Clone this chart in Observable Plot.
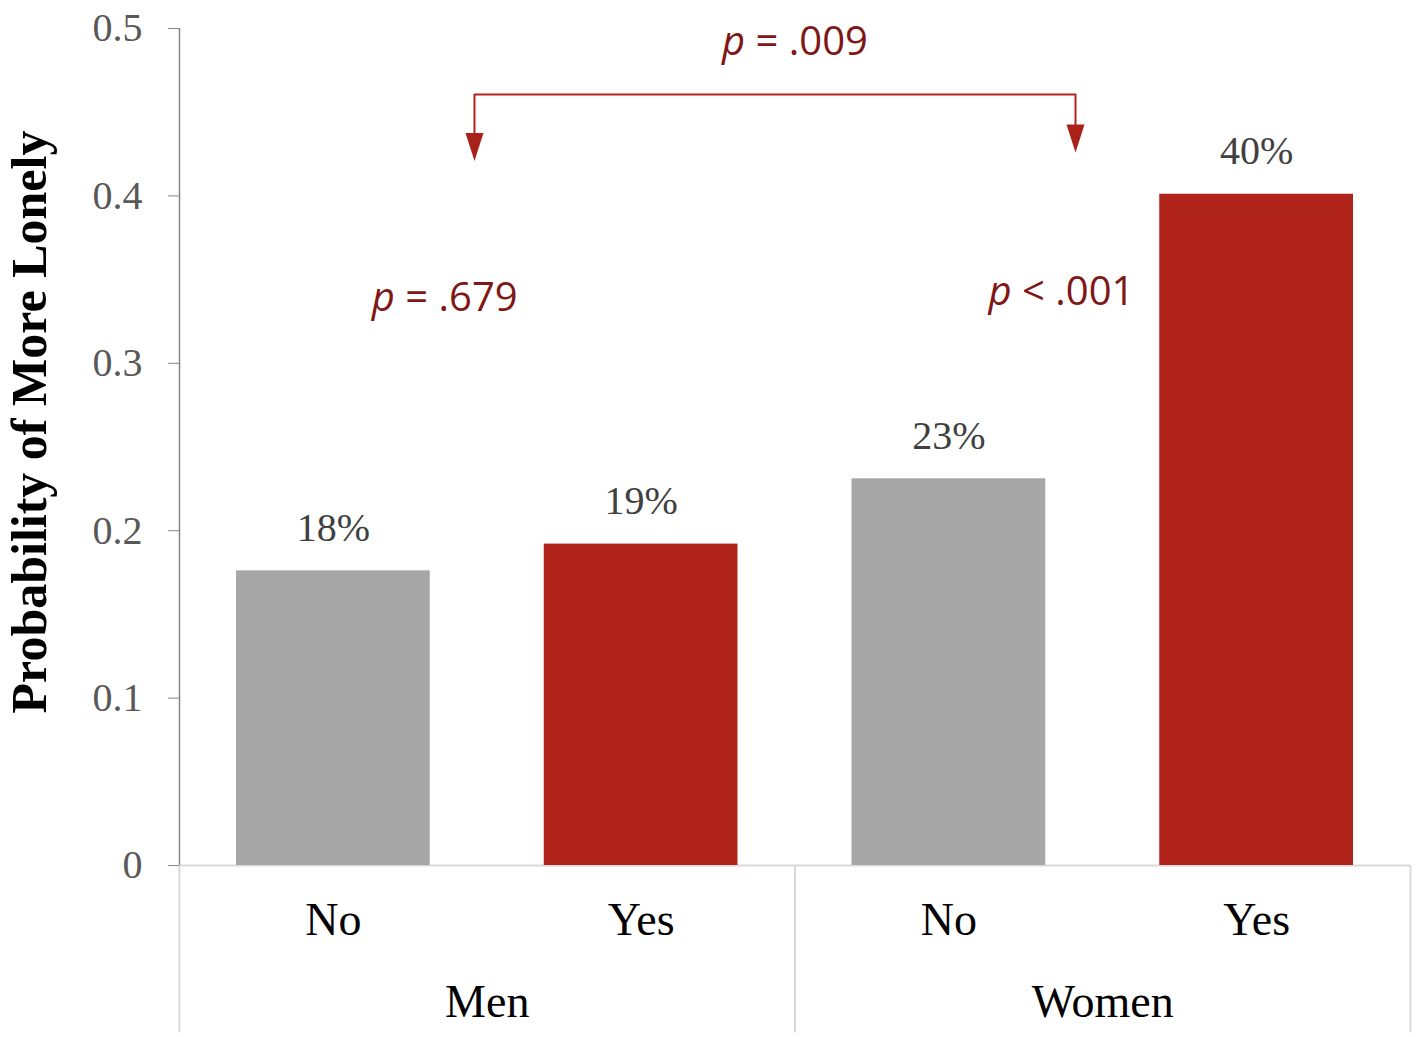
<!DOCTYPE html>
<html>
<head>
<meta charset="utf-8">
<script src="https://cdn.jsdelivr.net/npm/d3@7"></script>
<script src="https://cdn.jsdelivr.net/npm/@observablehq/plot@0.6"></script>
<style>
  html, body { margin: 0; padding: 0; background: #fff; }
  #chart { width: 1419px; height: 1037px; }
</style>
</head>
<body>
<div id="chart"></div>
<script>
// ---- data ----
const genders = ["Men", "Men", "Women", "Women"];
const answers = ["No", "Yes", "No", "Yes"];
const probabilities = [0.176, 0.192, 0.231, 0.401];
const groups = ["Men", "Women"];
const yTicks = [0, 0.1, 0.2, 0.3, 0.4, 0.5];
const yTitle = "Probability of More Lonely";

// annotations (data coordinates: x in bar-slot units, y in probability)
const noteTexts = ["p = .009", "p = .679", "p < .001"];
const noteX = [2.0, 0.862, 2.866];
const noteY = [0.4916, 0.3387, 0.3423];
const bracketX = [0.9585, 0.9585, 2.9115, 2.9115];
const bracketY = [0.432, 0.4606, 0.4606, 0.437];
const arrowX = [0.9585, 2.9115];
const arrowY = [0.4292, 0.4343];

// ---- build tables ----
const bars = genders.map((g, i) => ({i, gender: g, answer: answers[i], value: probabilities[i]}));
const notes = noteTexts.map((t, k) => ({text: t, x: noteX[k], y: noteY[k]}));
const bracket = bracketX.map((x, k) => ({x, y: bracketY[k]}));
const arrows = arrowX.map((x, k) => ({x, y: arrowY[k]}));

const GRAY = "#a6a6a6";
const RED = "#b0231b";
const SERIF = "Liberation Serif, Times New Roman, serif";
const SANS = "Open Sans, Liberation Sans, sans-serif";
const pct = d3.format(".0%");

const arrowSymbol = {
  draw(context, size) {
    const r = Math.sqrt(size / Math.PI);
    const w = 1.8 * r, h = 2.8 * r;
    context.moveTo(-w / 2, -h / 2);
    context.lineTo(w / 2, -h / 2);
    context.lineTo(0, h / 2);
    context.closePath();
  }
};

const plot = Plot.plot({
  width: 1419,
  height: 1037,
  marginLeft: 179,
  marginRight: 9,
  marginTop: 28,
  marginBottom: 172,
  style: {fontFamily: SERIF, fontSize: "40px", background: "#fff"},
  x: {domain: [0, 4], axis: null},
  y: {domain: [0, 0.5], axis: null},
  color: {domain: ["No", "Yes"], range: [GRAY, RED]},
  marks: [
    // category separators below the baseline
    Plot.ruleX([0, 2, 4], {y1: 0, y2: -0.1, stroke: "#d9d9d9", strokeWidth: 2}),
    Plot.ruleY([0], {stroke: "#d9d9d9", strokeWidth: 2}),
    // bars
    Plot.rect(bars, {x1: "i", x2: d => d.i + 1, y1: 0, y2: "value", fill: "answer", insetLeft: 57, insetRight: 57}),
    // y axis
    Plot.ruleX([0], {y1: 0, y2: 0.5, stroke: "#868686", strokeWidth: 1.5}),
    Plot.axisY(yTicks, {tickSize: 11, tickPadding: 26, stroke: "#868686", color: "#595959", fontSize: 40, fontFamily: SERIF, label: null, tickFormat: d => String(d)}),
    Plot.text([yTitle], {frameAnchor: "left", textAnchor: "middle", dx: -150, dy: -25, rotate: -90, fontSize: 50, fontWeight: "bold", fontFamily: SERIF, fill: "#000"}),
    // value labels
    Plot.text(bars, {x: d => d.i + 0.5, y: "value", text: d => pct(d.value), dy: -43, fill: "#404040", fontSize: 40, fontFamily: SERIF}),
    // category labels
    Plot.text(bars, {x: d => d.i + 0.5, frameAnchor: "bottom", text: "answer", dy: 69, fill: "#000", fontSize: 46, fontFamily: SERIF}),
    Plot.text(groups, {x: g => d3.mean(bars.filter(b => b.gender === g), b => b.i + 0.5), frameAnchor: "bottom", text: d => d, dy: 151, fill: "#000", fontSize: 46, fontFamily: SERIF}),
    // annotations
    Plot.line(bracket, {x: "x", y: "y", stroke: RED, strokeWidth: 2}),
    Plot.dot(arrows, {x: "x", y: "y", symbol: arrowSymbol, r: 10, fill: "#a8221a", stroke: null}),
    Plot.text(notes, {x: "x", y: "y", text: "text", fill: "#801717", fontSize: 40, fontFamily: SANS, className: "pnote"})
  ]
});

// italicise the leading "p" of the p-value annotations
plot.querySelectorAll(".pnote text").forEach(t => {
  const s = t.textContent;
  if (s.startsWith("p")) {
    t.textContent = "";
    const ts = document.createElementNS("http://www.w3.org/2000/svg", "tspan");
    ts.setAttribute("font-style", "italic");
    ts.textContent = "p";
    t.appendChild(ts);
    t.appendChild(document.createTextNode(s.slice(1)));
    t.setAttribute("xml:space", "preserve");
    t.style.whiteSpace = "pre";
  }
});

document.getElementById("chart").appendChild(plot);
</script>
</body>
</html>
